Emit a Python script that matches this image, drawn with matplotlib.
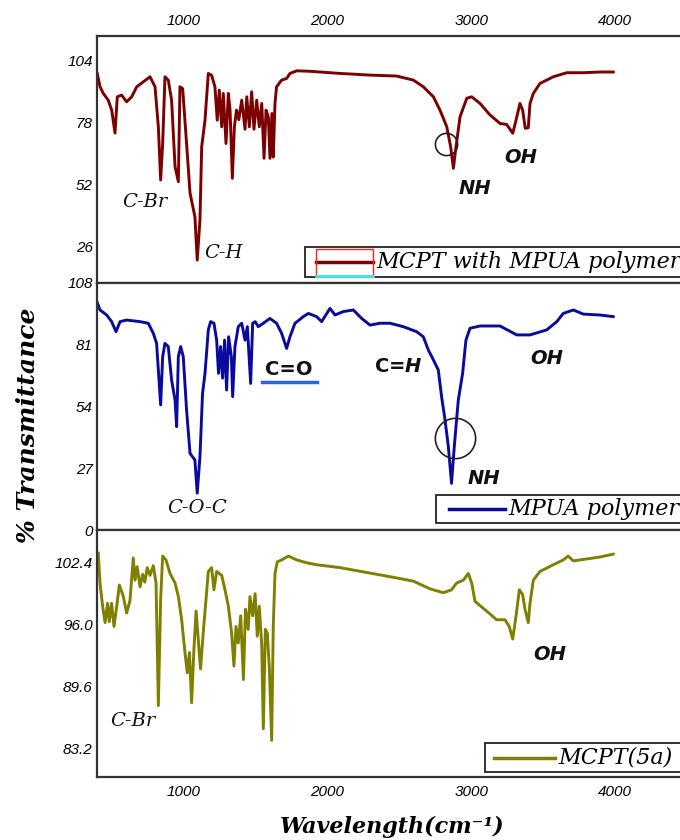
import matplotlib
matplotlib.use('Agg')
import matplotlib.pyplot as plt
from matplotlib.patches import Rectangle
from matplotlib.lines import Line2D

# ---- data ----
label_top = 'MCPT with MPUA polymer'
wn_top = [402, 421, 444, 478, 502, 525, 541, 571, 606, 641, 676, 722, 768, 803, 826, 842, 856, 872, 895, 918,
          942, 965, 976, 995, 1022, 1046, 1080, 1096, 1115, 1127, 1150, 1173, 1196, 1219, 1235, 1249, 1266, 1277, 1296, 1312,
          1324, 1340, 1354, 1369, 1385, 1405, 1428, 1440, 1458, 1474, 1490, 1509, 1527, 1544, 1560, 1574, 1590, 1601, 1615, 1624,
          1636, 1647, 1682, 1717, 1740, 1787, 1879, 2087, 2296, 2481, 2597, 2666, 2736, 2782, 2829, 2856, 2875, 2893, 2921, 2968,
          3002, 3060, 3129, 3199, 3245, 3287, 3310, 3337, 3356, 3374, 3395, 3407, 3430, 3476, 3569, 3662, 3777, 3893, 3985]
t_top = [98.4, 92.8, 90, 87.2, 83, 73.4, 88.6, 89.3, 86.5, 88.6, 92.8, 94.9, 97, 92.8, 76, 53.7, 69, 97, 95.6, 87.2,
         59.3, 53, 92.8, 92, 69, 48.2, 38.3, 20.1, 37, 67.6, 78.8, 98.4, 97.6, 92.8, 78.8, 91.4, 76, 90, 69, 90,
         83, 54.4, 76, 83, 79, 87.2, 75, 88.6, 76, 90.7, 75, 87.2, 76, 85.8, 62.8, 83, 80, 62.8, 81.6, 63.3,
         85.8, 92.8, 95.6, 96.3, 98.4, 99.5, 99.3, 98.4, 97.7, 97.3, 95.6, 92.8, 88.6, 83, 76, 67.6, 58.6, 67.6, 80.2, 88,
         88.6, 85.8, 81, 77.4, 77, 73.3, 78.8, 85.8, 83, 75.4, 75.6, 85.8, 90, 94.2, 97, 98.7, 98.7, 99, 99]

label_mid = 'MPUA polymer'
wn_mid = [402, 421, 467, 502, 532, 560, 606, 699, 756, 791, 814, 826, 842, 856, 872, 895, 918, 942, 953, 965,
          981, 999, 1022, 1046, 1080, 1096, 1115, 1133, 1150, 1173, 1189, 1212, 1231, 1244, 1258, 1272, 1286, 1300, 1314, 1333,
          1342, 1358, 1381, 1405, 1428, 1444, 1467, 1481, 1498, 1520, 1555, 1601, 1647, 1682, 1717, 1740, 1775, 1833, 1868, 1925,
          1960, 2018, 2053, 2110, 2180, 2238, 2296, 2365, 2435, 2527, 2620, 2666, 2701, 2736, 2770, 2793, 2817, 2840, 2862, 2881,
          2909, 2939, 2962, 2990, 3060, 3199, 3315, 3407, 3523, 3593, 3638, 3708, 3777, 3893, 3985]
t_mid = [99.4, 96.2, 94, 91.1, 86.7, 91.1, 91.8, 91.1, 90.4, 86, 81.6, 70, 54.7, 75.8, 81.6, 80.2, 65.6, 56.8, 45.2, 75.8,
         80.2, 75.8, 52.5, 33.5, 30.6, 16.1, 32.1, 59.8, 68.5, 87.5, 91.1, 90.4, 83, 68.5, 80.2, 66.4, 83, 61.2, 84.5, 75.8,
         58.3, 80.2, 88.9, 90.4, 83, 88.9, 64.1, 90.4, 91.1, 88.9, 90.4, 92.5, 90.4, 86, 79.4, 84.5, 90.4, 93.3, 94.7, 93.3,
         91.1, 96.9, 94, 95.5, 96.2, 92.5, 89.6, 90.4, 90.4, 88.9, 86.7, 84.5, 78.7, 74.4, 70, 58.3, 48.1, 36.4, 20.4, 36.4,
         56.8, 68.5, 83, 88.2, 89.2, 89.2, 85.3, 85.3, 87.5, 91.1, 94.7, 96.2, 94.4, 94, 93.3]

label_bot = 'MCPT(5a)'
wn_bot = [409, 421, 439, 456, 473, 485, 501, 518, 537, 555, 583, 606, 629, 652, 664, 679, 699, 717, 732, 749,
          768, 791, 810, 826, 842, 856, 879, 907, 942, 965, 988, 1011, 1027, 1042, 1057, 1073, 1088, 1103, 1119, 1138,
          1157, 1173, 1196, 1212, 1231, 1266, 1289, 1312, 1335, 1351, 1365, 1381, 1398, 1417, 1431, 1450, 1462, 1481, 1498, 1513,
          1527, 1544, 1555, 1569, 1583, 1597, 1613, 1624, 1636, 1652, 1682, 1729, 1787, 1856, 1925, 2087, 2272, 2457, 2597, 2713,
          2805, 2862, 2897, 2944, 2978, 3002, 3025, 3106, 3175, 3233, 3263, 3287, 3310, 3333, 3356, 3372, 3395, 3407, 3430, 3476,
          3569, 3638, 3672, 3708, 3801, 3893, 3985]
t_bot = [103.4, 100.3, 97.9, 96.2, 98.2, 96.3, 98.2, 95.8, 97.9, 100.1, 98.9, 97.2, 98.5, 102.9, 100.6, 102, 99.9, 101.2, 100.4, 101.9,
         101.1, 102.1, 100.3, 87.6, 98.6, 103.1, 102.7, 101.3, 100.3, 98.9, 96.5, 93.1, 91, 93.1, 87.9, 93.4, 97.4, 94.5, 91.4, 95.2,
         98.6, 101.5, 101.9, 99.6, 101.5, 101.1, 99.6, 97.9, 95.1, 91.7, 95.8, 94.1, 96.9, 90.3, 97.6, 95.5, 98.9, 96.9, 99.2, 94.8,
         97.9, 93.8, 85.2, 95.5, 95.1, 91.4, 84, 95.8, 101.3, 102.5, 102.7, 103.1, 102.7, 102.4, 102.2, 101.9, 101.4, 100.9, 100.5, 99.7,
         99.3, 99.6, 100.3, 100.6, 101.3, 100.3, 98.4, 97.4, 96.5, 96.5, 95.8, 94.5, 96.9, 99.6, 99.1, 97.6, 96.2, 98.2, 100.6, 101.5,
         102.2, 102.7, 103.1, 102.6, 102.8, 103, 103.3]

xticks = [1000, 2000, 3000, 4000]
yticks_top = [26, 52, 78, 104]
yticks_mid = [0, 27, 54, 81, 108]
yticks_bot = [83.2, 89.6, 96.0, 102.4]

# (text, x, y, style)
notes_top = [('C-Br', 733, 44.4, 'serif'), ('C-H', 1143, 23, 'serif_l'), ('NH', 3025, 50.3, 'bold'), ('OH', 3344, 63.3, 'bold')]
notes_mid = [('C=O', 1733, 70, 'upright'), (r'C=$\boldsymbol{H}$', 2490, 71.3, 'upright'), ('OH', 3525, 75.2, 'bold'),
             ('NH', 3088, 22.7, 'bold'), ('C-O-C', 1094, 9.6, 'serif')]
notes_bot = [('C-Br', 650, 86.0, 'serif'), ('OH', 3546, 92.9, 'bold')]

c_top, c_mid, c_bot = '#7d0000', '#0a0a9e', '#808000'

W, H = 680, 840
fig = plt.figure(figsize=(6.8, 8.4), dpi=100)
plt.rcParams['mathtext.fontset'] = 'dejavusans'


def fx(px):
    return px / W


def fy(py):
    return 1 - py / H


left, right = 97, 690
xlim = (400, 400 + (right - left) / 0.144)

ax_top = fig.add_axes([fx(left), fy(283), fx(right - left), 247 / H])
ax_mid = fig.add_axes([fx(left), fy(530), fx(right - left), 247 / H])
ax_bot = fig.add_axes([fx(left), fy(777), fx(right - left), 247 / H])

ax_top.plot(wn_top, t_top, color=c_top, lw=2.1)
ax_mid.plot(wn_mid, t_mid, color=c_mid, lw=2.1)
ax_bot.plot(wn_bot, t_bot, color=c_bot, lw=2.1)

ax_top.set_ylim(10.5, 114.1)
ax_mid.set_ylim(0, 108)
ax_bot.set_ylim(80.2, 105.8)
ax_top.set_yticks(yticks_top)
ax_mid.set_yticks(yticks_mid)
ax_bot.set_yticks(yticks_bot)
ax_bot.set_yticklabels(['%.1f' % v for v in yticks_bot])

tick_font = dict(family='Liberation Sans', style='italic', size=11)
for ax in (ax_top, ax_mid, ax_bot):
    ax.set_xlim(*xlim)
    ax.set_xticks(xticks)
    for s in ax.spines.values():
        s.set_linewidth(1.6)
        s.set_color('#333333')
    ax.tick_params(length=0, pad=3)
    for lab in ax.get_yticklabels():
        lab.set_fontproperties(matplotlib.font_manager.FontProperties(**tick_font))

ax_top.xaxis.tick_top()
ax_top.tick_params(axis='x', pad=6)
ax_mid.tick_params(axis='x', labelbottom=False)
ax_bot.tick_params(axis='x', pad=6)
for ax in (ax_top, ax_bot):
    for lab in ax.get_xticklabels():
        lab.set_fontproperties(matplotlib.font_manager.FontProperties(**tick_font))

styles = {
    'serif': dict(family='DejaVu Serif', style='italic', size=14, ha='center'),
    'serif_l': dict(family='DejaVu Serif', style='italic', size=14, ha='left'),
    'bold': dict(family='DejaVu Sans', style='italic', weight='bold', size=14, ha='center'),
    'upright': dict(family='DejaVu Sans', weight='bold', size=14, ha='center'),
}
for ax, notes in ((ax_top, notes_top), (ax_mid, notes_mid), (ax_bot, notes_bot)):
    for txt, x, y, st in notes:
        ax.text(x, y, txt, va='center', color='#111111', **styles[st])

# underline under C=O
ax_mid.plot([1546, 1928], [64.7, 64.7], color='#2a64e0', lw=2.5)
# circles around the NH bands
ax_top.plot([2827], [68.8], 'o', mfc='none', mec='#222222', ms=16, mew=1.2)
ax_mid.plot([2886], [40.2], 'o', mfc='none', mec='#222222', ms=29, mew=1.2)

# legend boxes, drawn by hand to match the original
leg_font = dict(family='DejaVu Serif', style='italic', size=16, va='center')


def legend_box(x0, y0, y1, hx0, hx1, color, label):
    fig.add_artist(Rectangle((fx(x0), fy(y1)), fx(W + 20 - x0), (y1 - y0) / H, transform=fig.transFigure,
                             facecolor='white', edgecolor='#222222', lw=1.3, zorder=5))
    ym = (y0 + y1) / 2
    fig.add_artist(Line2D([fx(hx0), fx(hx1)], [fy(ym), fy(ym)], transform=fig.transFigure,
                          color=color, lw=2.5, zorder=6))
    fig.text(fx(hx1 + 3), fy(ym), label, zorder=7, **leg_font)


legend_box(305, 247, 277, 316, 373, c_top, label_top)
# odd red frame and cyan line of the first legend key
fig.add_artist(Rectangle((fx(316), fy(276)), fx(57), 27 / H, transform=fig.transFigure,
                         facecolor='none', edgecolor='#ff2020', lw=1, zorder=6))
fig.add_artist(Line2D([fx(316), fx(373)], [fy(276), fy(276)], transform=fig.transFigure,
                      color='#40e8f0', lw=2, zorder=6))
legend_box(436, 495, 523, 449, 505, c_mid, label_mid)
legend_box(485, 743, 772, 494, 555, c_bot, label_bot)

fig.text(fx(28), fy(425), '% Transmittance', rotation=90, ha='center', va='center',
         family='DejaVu Serif', style='italic', weight='bold', size=18)
fig.text(fx(392), fy(827), 'Wavelength(cm\u207b\u00b9)', ha='center', va='center',
         family='DejaVu Serif', style='italic', weight='bold', size=16)

fig.savefig('out.png', dpi=100)
